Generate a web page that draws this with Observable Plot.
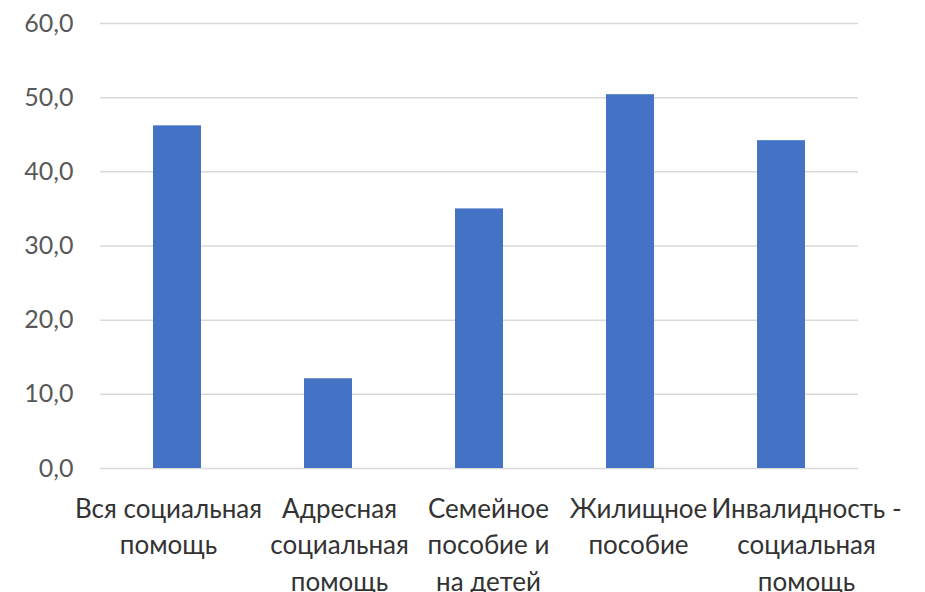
<!DOCTYPE html>
<html>
<head>
<meta charset="utf-8">
<script src="https://cdn.jsdelivr.net/npm/d3@7"></script>
<script src="https://cdn.jsdelivr.net/npm/@observablehq/plot@0.6"></script>
<style>
  html, body { margin: 0; padding: 0; background: #fff; }
  #chart svg { display: block; }
</style>
</head>
<body>
<div id="chart"></div>
<script>
const categories = [
  "Вся социальная\nпомощь",
  "Адресная\nсоциальная\nпомощь",
  "Семейное\nпособие и\nна детей",
  "Жилищное\nпособие",
  "Инвалидность -\nсоциальная\nпомощь"
];
const values = [46.2, 12.1, 35.0, 50.4, 44.2];
const yTicks = [0, 10, 20, 30, 40, 50, 60];

// small horizontal nudges of the wrapped category labels (label layout style, not data)
const labelNudge = [-9, 11, 9, 8, 25];

const data = categories.map((c, i) => ({category: c, value: values[i]}));
const font = "Lato, 'Noto Sans', sans-serif";
const fmt = d => d.toFixed(1).replace(".", ",");

const chart = Plot.plot({
  width: 925,
  height: 592,
  marginLeft: 100,
  marginRight: 67,
  marginTop: 23,
  marginBottom: 124,
  style: {fontFamily: font, background: "#fff"},
  x: {domain: categories, paddingInner: 0.685, paddingOuter: 0.3425, axis: null},
  y: {domain: [0, 60], ticks: yTicks, axis: null},
  marks: [
    Plot.gridY(yTicks, {stroke: "#d9d9d9", strokeOpacity: 1, strokeWidth: 1.5}),
    Plot.barY(data, {x: "category", y: "value", fill: "#4472c4"}),
    Plot.axisY(yTicks, {label: null, tickSize: 0, tickPadding: 27, tickFormat: fmt, fontSize: 25, fill: "#595959", fontFamily: font}),
    ...categories.map((c, i) =>
      Plot.text([c], {x: d => d, frameAnchor: "bottom", lineAnchor: "top", dy: 23, dx: labelNudge[i], lineHeight: 1.41, fontSize: 26, fill: "#333333", fontFamily: font})
    )
  ]
});
document.getElementById("chart").appendChild(chart);
</script>
</body>
</html>
